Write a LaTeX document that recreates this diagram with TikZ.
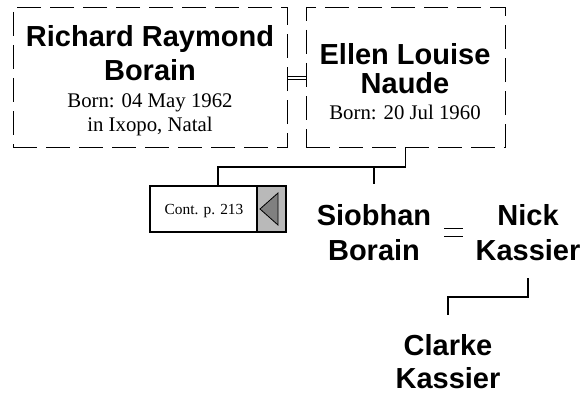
\documentclass[tikz,border=0pt]{standalone}
\usepackage{fontspec}
\setmainfont{Liberation Serif}
\newfontfamily\namefont[BoldFont={Liberation Sans Bold}]{Liberation Sans}
\begin{document}
\begin{tikzpicture}[x=1pt,y=-1pt,
  personbox/.style={draw, line width=0.9pt, dash pattern=on 24pt off 9pt, minimum width=#1, minimum height=140pt, inner sep=0pt},
  bigname/.style={anchor=base, inner sep=0pt, font=\namefont\bfseries\fontsize{29}{29}\selectfont},
  small/.style={anchor=base, inner sep=0pt, font=\fontsize{20.8}{20.8}\selectfont},
  link/.style={line width=1.1pt},
  ]
\useasboundingbox (0,0) rectangle (586,396);
% boxes
\node[personbox=274pt] (rbox) at (150,77) {};
\node[personbox=199pt] (ebox) at (405.5,77) {};
% texts
\node[bigname] (r1) at (150,47) {Richard Raymond};
\node[bigname] (r2) at (150,81) {Borain};
\node[small] (r3) at (150,107) {Born: 04 May 1962};
\node[small] (r4) at (150,131) {in Ixopo, Natal};
\node[bigname] (e1) at (405,64) {Ellen Louise};
\node[bigname] (e2) at (405,93) {Naude};
\node[small] (e3) at (405,119) {Born: 20 Jul 1960};
% marriage double line
\draw[line width=0.8pt] (rbox.east |- 0,76) -- (ebox.west |- 0,76);
\draw[line width=0.8pt] (rbox.east |- 0,79.5) -- (ebox.west |- 0,79.5);
% cont box
\node[draw, line width=1.2pt, minimum width=136pt, minimum height=46pt, inner sep=0pt] (cont) at (218,209) {};
\fill[gray!55] (257,186.6) rectangle (285.4,231.4);
\draw[line width=1.2pt] (cont.north west) rectangle (cont.south east);
\draw[line width=1.2pt] (257,186) -- (257,232);
\filldraw[fill=gray, line width=0.8pt] (260,209) -- (278,193) -- (278,225) -- cycle;
\node[anchor=base, inner sep=0pt, font=\fontsize{15.4}{15.4}\selectfont] (ctext) at (204,214) {Cont. p. 213};
% children
\node[bigname] (s1) at (374,225) {Siobhan};
\node[bigname] (s2) at (374,260) {Borain};
\node[bigname] (n1) at (528,225) {Nick};
\node[bigname] (n2) at (528,260) {Kassier};
\node[bigname] (c1) at (448,355) {Clarke};
\node[bigname] (c2) at (448,388) {Kassier};
\coordinate (s1top) at (374,184);
% lines
\coordinate (bar) at (0,167);
\draw[link] (ebox.south) -- (ebox.south |- bar) -- (cont.north |- bar) -- (cont.north);
\draw[link] (s1top |- bar) -- (s1top);
% equal sign
\draw[line width=1pt] (444,228) -- (463,228);
\draw[line width=1pt] (444,236.5) -- (463,236.5);
% child line
\coordinate (nb) at (528,278);
\coordinate (ct) at (448,315);
\draw[link] (nb) -- (nb |- 0,297) -- (ct |- 0,297) -- (ct);
\end{tikzpicture}
\end{document}
